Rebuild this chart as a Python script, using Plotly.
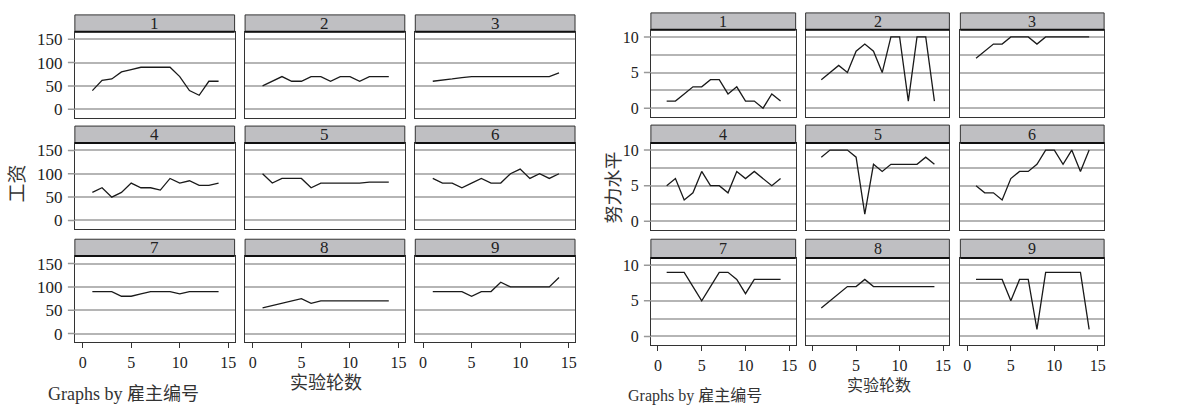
import plotly.graph_objects as go

W, H = 1177, 406

rounds = list(range(1, 15))
employers = ["1", "2", "3", "4", "5", "6", "7", "8", "9"]

wage_1 = [40, 62, 65, 80, 85, 90, 90, 90, 90, 70, 40, 30, 60, 60]
wage_2 = [50, 60, 70, 60, 60, 70, 70, 60, 70, 70, 60, 70, 70, 70]
wage_3 = [60, 62, 65, 68, 70, 70, 70, 70, 70, 70, 70, 70, 70, 78]
wage_4 = [60, 70, 50, 60, 80, 70, 70, 65, 90, 80, 85, 75, 75, 80]
wage_5 = [100, 80, 90, 90, 90, 70, 80, 80, 80, 80, 80, 82, 82, 82]
wage_6 = [90, 80, 80, 70, 80, 90, 80, 80, 100, 110, 90, 100, 90, 100]
wage_7 = [90, 90, 90, 80, 80, 85, 90, 90, 90, 85, 90, 90, 90, 90]
wage_8 = [55, 60, 65, 70, 75, 65, 70, 70, 70, 70, 70, 70, 70, 70]
wage_9 = [90, 90, 90, 90, 80, 90, 90, 110, 100, 100, 100, 100, 100, 120]

effort_1 = [1, 1, 2, 3, 3, 4, 4, 2, 3, 1, 1, 0, 2, 1]
effort_2 = [4, 5, 6, 5, 8, 9, 8, 5, 10, 10, 1, 10, 10, 1]
effort_3 = [7, 8, 9, 9, 10, 10, 10, 9, 10, 10, 10, 10, 10, 10]
effort_4 = [5, 6, 3, 4, 7, 5, 5, 4, 7, 6, 7, 6, 5, 6]
effort_5 = [9, 10, 10, 10, 9, 1, 8, 7, 8, 8, 8, 8, 9, 8]
effort_6 = [5, 4, 4, 3, 6, 7, 7, 8, 10, 10, 8, 10, 7, 10]
effort_7 = [9, 9, 9, 7, 5, 7, 9, 9, 8, 6, 8, 8, 8, 8]
effort_8 = [4, 5, 6, 7, 7, 8, 7, 7, 7, 7, 7, 7, 7, 7]
effort_9 = [8, 8, 8, 8, 5, 8, 8, 1, 9, 9, 9, 9, 9, 1]

wage_ticks = [0, 50, 100, 150]
effort_ticks = [0, 5, 10]
effort_grid = [0, 2.5, 5, 7.5, 10]
x_ticks = [0, 5, 10, 15]

wage_series = [wage_1, wage_2, wage_3, wage_4, wage_5, wage_6, wage_7, wage_8, wage_9]
effort_series = [effort_1, effort_2, effort_3, effort_4, effort_5, effort_6, effort_7, effort_8, effort_9]

SERIF = "Liberation Serif, Times New Roman, Noto Sans CJK SC, serif"
CJK = "Liberation Serif, Noto Sans CJK SC, serif"

fig = go.Figure()
layout = dict(width=W, height=H, margin=dict(l=0, r=0, t=0, b=0),
              paper_bgcolor="white", plot_bgcolor="white", showlegend=False)
shapes = []
annotations = []

def px_x(v):
    return v / W

def px_y(v):
    return 1 - v / H

charts = [
    dict(series=wage_series, cols=[(75, 235), (245.5, 405.5), (416, 576)],
         rows=[(13, 30, 117), (125, 142, 229), (239, 256, 343)],
         xrange=[-0.8, 15.65], yrange=[-19, 166], yticks=wage_ticks, ygrid=wage_ticks,
         fs=17, xfs=16),
    dict(series=effort_series, cols=[(652, 797), (807, 951), (962, 1106)],
         rows=[(11, 28, 116), (124, 142, 230), (239, 258, 346)],
         xrange=[-0.8, 15.72], yrange=[-1.26, 11.0], yticks=effort_ticks, ygrid=effort_grid,
         fs=16, xfs=16),
]

k = 0
for ch in charts:
    for i, ser in enumerate(ch["series"]):
        r, c = divmod(i, 3)
        k += 1
        xa = "xaxis" if k == 1 else f"xaxis{k}"
        ya = "yaxis" if k == 1 else f"yaxis{k}"
        xref = "x" if k == 1 else f"x{k}"
        yref = "y" if k == 1 else f"y{k}"
        x0, x1 = ch["cols"][c]
        htop, ptop, pbot = ch["rows"][r]
        fig.add_trace(go.Scatter(x=rounds, y=ser, mode="lines",
                                 line=dict(color="#1a1a1a", width=1.3),
                                 xaxis=xref, yaxis=yref, hoverinfo="skip"))
        bottom = (r == 2)
        left = (c == 0)
        layout[xa] = dict(domain=[px_x(x0), px_x(x1)], range=ch["xrange"], anchor=yref,
                          tickvals=x_ticks, ticktext=[str(t) for t in x_ticks],
                          showticklabels=bottom, ticks="outside" if bottom else "",
                          ticklen=5, tickwidth=1, tickcolor="#333",
                          tickfont=dict(family=SERIF, size=ch["xfs"], color="#222"),
                          showgrid=False, zeroline=False,
                          showline=True, mirror=True, linecolor="#333", linewidth=1)
        layout[ya] = dict(domain=[px_y(pbot), px_y(ptop)], range=ch["yrange"], anchor=xref,
                          tickvals=ch["ygrid"],
                          ticktext=[(str(int(t)) if t in ch["yticks"] else "") for t in ch["ygrid"]],
                          showticklabels=left, ticks="", ticklabelstandoff=8,
                          tickfont=dict(family=SERIF, size=ch["fs"], color="#222"),
                          showgrid=True, gridcolor="#b5b5b5", gridwidth=1.5, zeroline=False,
                          showline=True, mirror=True, linecolor="#333", linewidth=1)
        if left:
            for t in ch["yticks"]:
                shapes.append(dict(type="line", xref="paper", yref=yref,
                                   x0=px_x(x0 - 7), x1=px_x(x0), y0=t, y1=t,
                                   line=dict(color="#999", width=1.5)))
        # header strip
        shapes.append(dict(type="rect", xref="paper", yref="paper",
                           x0=px_x(x0), x1=px_x(x1), y0=px_y(ptop), y1=px_y(htop),
                           fillcolor="#bfbfc2", line=dict(color="#333", width=1), layer="above"))
        shapes.append(dict(type="line", xref="paper", yref="paper",
                           x0=px_x(x0), x1=px_x(x1), y0=px_y(ptop), y1=px_y(ptop),
                           line=dict(color="#111", width=2), layer="above"))
        annotations.append(dict(text=employers[i], xref="paper", yref="paper",
                                x=px_x((x0 + x1) / 2), y=px_y((htop + ptop) / 2),
                                xanchor="center", yanchor="middle", showarrow=False,
                                font=dict(family=SERIF, size=ch["fs"], color="#222")))

# axis titles and notes
annotations += [
    dict(text="工资", x=px_x(18), y=px_y(183), textangle=-90, font=dict(family=CJK, size=19, color="#333")),
    dict(text="实验轮数", x=px_x(327), y=px_y(384), font=dict(family=CJK, size=18, color="#333")),
    dict(text="Graphs by 雇主编号", x=px_x(124), y=px_y(395), font=dict(family=CJK, size=18, color="#333")),
    dict(text="努力水平", x=px_x(615), y=px_y(187), textangle=-90, font=dict(family=CJK, size=18, color="#333")),
    dict(text="实验轮数", x=px_x(880), y=px_y(386), font=dict(family=CJK, size=16, color="#333")),
    dict(text="Graphs by 雇主编号", x=px_x(696), y=px_y(397), font=dict(family=CJK, size=16, color="#333")),
]
for a in annotations[-6:]:
    a.update(xref="paper", yref="paper", xanchor="center", yanchor="middle", showarrow=False)

layout["shapes"] = shapes
layout["annotations"] = annotations
fig.update_layout(**layout)
fig.write_html("out.html")
